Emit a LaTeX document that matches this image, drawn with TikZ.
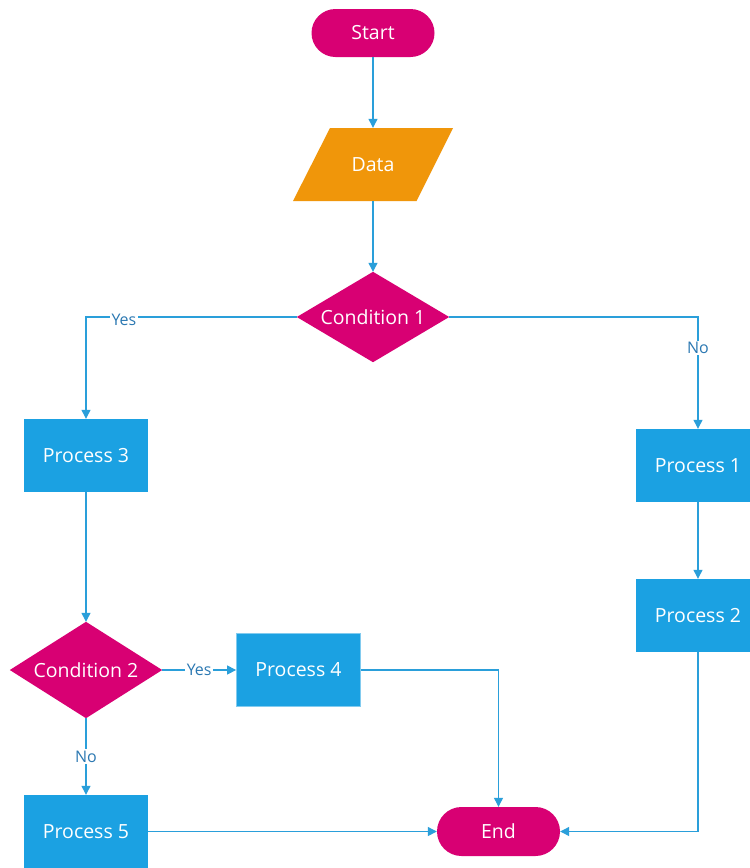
\documentclass[tikz,border=0pt]{standalone}
\usepackage{fontspec}
\setmainfont{Open Sans}
\usetikzlibrary{shapes.misc,arrows.meta}
\definecolor{mag}{HTML}{D80073}
\definecolor{orng}{HTML}{F0960A}
\definecolor{blu}{HTML}{1BA1E2}
\definecolor{conn}{HTML}{2A9FDA}
\definecolor{lab}{HTML}{2B78B2}
\tikzset{
  terminal/.style={rounded rectangle, fill=mag, minimum width=123pt, minimum height=48pt, inner sep=0pt, text=white, font=\fontsize{19.5}{22}\selectfont},
  procbox/.style={rectangle, fill=blu, minimum width=124pt, minimum height=73pt, inner sep=0pt, text=white, font=\fontsize{19.5}{22}\selectfont},
  anchorbox/.style={rectangle, inner sep=0pt, text=white, font=\fontsize{19.5}{22}\selectfont},
  flow/.style={conn, line width=1.2pt, -{Triangle[length=9pt,width=9pt]}},
  lbl/.style={fill=white, inner sep=1.5pt, text=lab, font=\fontsize{16}{18}\selectfont}
}
\begin{document}
\begin{tikzpicture}[x=1pt,y=-1pt]
\clip (0,0) rectangle (750,868);
\fill[white] (0,0) rectangle (750,868);
% nodes
\node[terminal] (start) at (373,33) {Start};
\node[anchorbox, minimum width=160pt, minimum height=73pt] (data) at (373,164.5) {};
\fill[orng] (330,128) -- (453,128) -- (416.5,201) -- (293,201) -- cycle;
\node[anchorbox] at (data.center) {Data};
\node[anchorbox, minimum width=152pt, minimum height=90pt] (c1) at (373,317) {};
\fill[mag] (c1.north) -- (c1.east) -- (c1.south) -- (c1.west) -- cycle;
\node[anchorbox] at (c1.center) {Condition 1};
\node[procbox] (p3) at (86,455.5) {Process 3};
\node[procbox] (p1) at (698,465.5) {Process 1};
\node[procbox] (p2) at (698,615.5) {Process 2};
\node[anchorbox, minimum width=152pt, minimum height=96pt] (c2) at (86,670) {};
\fill[mag] (c2.north) -- (c2.east) -- (c2.south) -- (c2.west) -- cycle;
\node[anchorbox] at (c2.center) {Condition 2};
\node[procbox, draw=blu!55, line width=0.8pt] (p4) at (298.5,670) {Process 4};
\node[procbox] (p5) at (86,831.5) {Process 5};
\node[terminal, minimum height=49pt] (end) at (498.5,831.5) {End};
% connectors
\draw[flow] (start.south) -- (data.north);
\draw[flow] (data.south) -- (c1.north);
\draw[flow] (c1.west) -| node[lbl, pos=0.41, yshift=-2.5pt] {Yes} (p3.north);
\draw[flow] (c1.east) -| node[lbl, pos=0.638] {No} (p1.north);
\draw[flow] (p1.south) -- (p2.north);
\draw[flow] (p2.south) |- (end.east);
\draw[flow] (p3.south) -- (c2.north);
\draw[flow] (c2.east) -- node[lbl] {Yes} (p4.west);
\draw[flow] (c2.south) -- node[lbl] {No} (p5.north);
\draw[flow] (p4.east) -| (end.north);
\draw[flow] (p5.east) -- (end.west);
\end{tikzpicture}
\end{document}
